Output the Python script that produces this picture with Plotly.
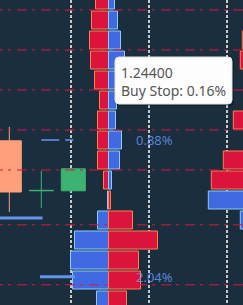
import plotly.graph_objects as go

# ---------------- data ----------------
# price buckets of the order book (top -> bottom)
prices = [1.24550, 1.24500, 1.24450, 1.24400, 1.24350, 1.24300, 1.24250, 1.24200,
          1.24150, 1.24100, 1.24050, 1.24000, 1.23950, 1.23900, 1.23850, 1.23800]
top_prices = prices[:10]      # above current price
bottom_prices = prices[10:]   # below current price

# order-book snapshot positions (in candle-index units)
book_x = [3.1, 8.0]

# snapshot A (middle), percent of orders
sell_limit_a = [0.13, 0.17, 0.19, 0.18, 0.14, 0.09, 0.11, 0.11, 0.11, 0.05]
buy_stop_a = [0.06, 0.09, 0.12, 0.16, 0.12, 0.08, 0.07, 0.13, 0.11, 0.03]
buy_limit_a = [0.01, 0.11, 0.34, 0.38, 0.36, 0.12]
sell_stop_a = [0.02, 0.24, 0.49, 0.30, 0.32, 0.18]

# snapshot B (right, mostly off-screen)
sell_limit_b = [0.12, 0.18, 0.23, 0.25, 0.20, 0.15, 0.32, 0.19, 0.42, 0.54]
buy_stop_b = [0.08, 0.10, 0.12, 0.14, 0.11, 0.09, 0.10, 0.12, 0.15, 0.06]
buy_limit_b = [0.57, 0.25, 0.15, 0.10, 0.12, 0.08]
sell_stop_b = [0.05, 0.20, 0.30, 0.28, 0.25, 0.15]

# candles
candle_x = [0, 1, 2]
candle_open = [1.24198, 1.24073, 1.24073]
candle_high = [1.24233, 1.24123, 1.24128]
candle_low = [1.24020, 1.24030, 1.24073]
candle_close = [1.24070, 1.24074, 1.24128]

# blue level segments and their labels
level_prices = [1.24200, 1.24005, 1.23858]
level_start = [1.0, -1.0, 0.96]
level_end = [2.0, 1.04, 2.05]
level_labels = ["0.88%", "", "2.04%"]
label_x = 4.55

# red reference price lines
ref_lines = [1.24525, 1.24425, 1.24325, 1.24225, 1.24125, 1.23988, 1.23838]

# hovered bucket for the tooltip
hover_row = 3

# ---------------- styles ----------------
W, H = 243, 305
BG = "#1a2e3e"
RED = "#dc143c"
RED_LINE = "#ff7f50"
BLUE = "#4169e1"
BLUE_LINE = "#87cefa"
LEVEL = "#6495ed"
UP = "#3cb371"
DOWN = "#ffa07a"
PCT_TO_X = 3.125          # x units per 1 %
BAR_W = 0.00045
X_RANGE = [-0.290625, 7.303]
Y_RANGE = [1.237875, 1.2455]
level_widths = [1.5, 3, 3]
level_dash = ["18px,6px", "solid", "solid"]
TIP_BOX = (115, 57, 232, 104)   # tooltip box in pixels (left, top, right, bottom)

fig = go.Figure()


def add_side(vals, ys, base, sign, fill, edge):
    fig.add_trace(go.Bar(
        orientation="h", y=ys, x=[sign * v * PCT_TO_X for v in vals], base=base,
        width=BAR_W, marker=dict(color=fill, line=dict(color=edge, width=1)),
        hoverinfo="skip", showlegend=False))


for bx, sl, bs, bl, ss in [(book_x[0], sell_limit_a, buy_stop_a, buy_limit_a, sell_stop_a),
                           (book_x[1], sell_limit_b, buy_stop_b, buy_limit_b, sell_stop_b)]:
    add_side(sl, top_prices, bx, -1, RED, RED_LINE)
    add_side(bs, top_prices, bx, 1, BLUE, BLUE_LINE)
    add_side(bl, bottom_prices, bx, -1, BLUE, BLUE_LINE)
    add_side(ss, bottom_prices, bx, 1, RED, RED_LINE)

fig.add_trace(go.Candlestick(
    x=candle_x, open=candle_open, high=candle_high, low=candle_low, close=candle_close,
    increasing=dict(line=dict(color=UP, width=1), fillcolor=UP),
    decreasing=dict(line=dict(color=DOWN, width=1), fillcolor=DOWN),
    whiskerwidth=0, showlegend=False, hoverinfo="skip"))

for p, x0, x1, w, d in zip(level_prices, level_start, level_end, level_widths, level_dash):
    fig.add_trace(go.Scatter(x=[x0, x1], y=[p, p], mode="lines",
                             line=dict(color=LEVEL, width=w, dash=d),
                             hoverinfo="skip", showlegend=False))

for p in ref_lines:
    fig.add_shape(type="line", xref="x", yref="y", x0=-0.509, x1=8.0, y0=p, y1=p,
                  line=dict(color=RED, width=1, dash="10px,5px,3px,6px"), layer="above")


def rounded_rect(l, t, r, b, rad):
    px = lambda v: v / W
    py = lambda v: 1 - v / H
    return (f"M {px(l + rad)},{py(t)} L {px(r - rad)},{py(t)} "
            f"Q {px(r)},{py(t)} {px(r)},{py(t + rad)} L {px(r)},{py(b - rad)} "
            f"Q {px(r)},{py(b)} {px(r - rad)},{py(b)} L {px(l + rad)},{py(b)} "
            f"Q {px(l)},{py(b)} {px(l)},{py(b - rad)} L {px(l)},{py(t + rad)} "
            f"Q {px(l)},{py(t)} {px(l + rad)},{py(t)} Z")


l, t, r, b = TIP_BOX
# soft shadow + box of the tooltip
fig.add_shape(type="path", xref="paper", yref="paper", layer="above",
              path=rounded_rect(l + 1, t + 1, r + 2, b + 2, 4),
              fillcolor="rgba(0,0,0,0.25)", line=dict(width=0))
fig.add_shape(type="path", xref="paper", yref="paper", layer="above",
              path=rounded_rect(l, t, r, b, 4),
              fillcolor="#fdfdfd", line=dict(color="#e2e2e2", width=1))

for p, txt in zip(level_prices, level_labels):
    if txt:
        fig.add_annotation(x=label_x, y=p, text=txt, showarrow=False,
                           xanchor="center", yanchor="middle",
                           font=dict(family="Noto Sans", size=13, color="rgba(100,149,237,0.85)"))

fig.add_annotation(
    x=book_x[0], y=prices[hover_row], xanchor="left", yanchor="top",
    xshift=6.5, yshift=3, showarrow=False, align="left",
    text=f"{prices[hover_row]:.5f}<br>Buy Stop: {buy_stop_a[hover_row]:.2f}%",
    bgcolor="rgba(0,0,0,0)", bordercolor="rgba(0,0,0,0)", borderwidth=1, borderpad=5,
    font=dict(family="Noto Sans", size=14, color="#555555"))

fig.update_layout(
    width=W, height=H, margin=dict(l=0, r=0, t=0, b=0),
    paper_bgcolor=BG, plot_bgcolor=BG, barmode="overlay",
    boxgap=0.25, boxgroupgap=0, showlegend=False,
    xaxis=dict(range=X_RANGE, showgrid=True, gridcolor="#c8c8c8", gridwidth=2,
               griddash="3px,2px", tick0=1.928, dtick=2.4375, zeroline=False,
               showticklabels=False, ticks="", rangeslider=dict(visible=False),
               fixedrange=True),
    yaxis=dict(range=Y_RANGE, showgrid=False, zeroline=False, showticklabels=False,
               ticks="", fixedrange=True),
)

fig.write_html("out.html", config={"displayModeBar": False})
